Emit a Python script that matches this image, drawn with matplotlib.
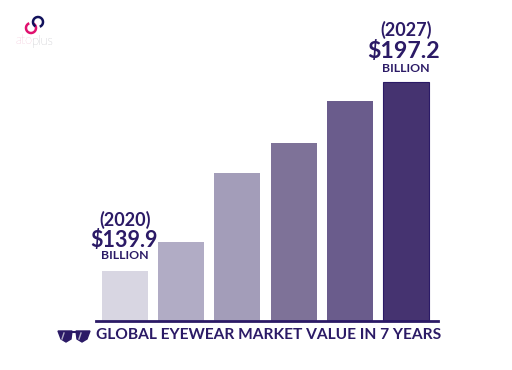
import matplotlib
matplotlib.use('Agg')
import matplotlib.pyplot as plt
from matplotlib.patches import Arc, Polygon

# values, only first and last are printed on the chart
positions = [0, 1, 2, 3, 4, 5]
values = [139.9, 148.7, 169.6, 178.7, 191.4, 197.2]
bar_colors = ['#d8d6e2', '#b1acc5', '#a39db9', '#7e7298', '#6a5c8c', '#453370']
first_label = ['(2020)', '$139.9', 'BILLION']
last_label = ['(2027)', '$197.2', 'BILLION']
title = 'GLOBAL EYEWEAR MARKET VALUE IN 7 YEARS'
navy = '#2b1a66'

plt.rcParams['font.family'] = ['Lato', 'DejaVu Sans']
fig = plt.figure(figsize=(5.12, 3.70), dpi=100)

# Chart axes, baseline sits at the bottom spine
ax = fig.add_axes([96 / 512, 49 / 370, 342 / 512, 321 / 370])
bars = ax.bar(positions, values, width=0.82, color=bar_colors)
bars[-1].set_edgecolor(navy)
bars[-1].set_linewidth(0.8)
ax.set_xlim(-0.516, 5.57)
ax.set_ylim(124.74, 222.07)
for side in ['top', 'left', 'right']:
    ax.spines[side].set_visible(False)
ax.spines['bottom'].set_color(navy)
ax.spines['bottom'].set_linewidth(2)
ax.set_xticks([])
ax.set_yticks([])
ax.patch.set_alpha(0)


def add_label(x, top, lines, big, dx, offs):
    # stacked label above a bar, offsets in points
    ax.annotate(lines[2], (x, top), xytext=(0, offs[0]), textcoords='offset points', ha='center', va='center',
                fontsize=8.8, fontweight='bold', color=navy)
    ax.annotate(lines[1], (x, top), xytext=(dx, offs[1]), textcoords='offset points', ha='center', va='center',
                fontsize=big, fontweight='bold', color=navy)
    ax.annotate(lines[0], (x, top), xytext=(0, offs[2]), textcoords='offset points', ha='center', va='center',
                fontsize=13, fontweight='bold', color=navy)


add_label(positions[0], values[0], first_label, 15.5, -1, (11.5, 22, 37))
add_label(positions[-1], values[-1], last_label, 16.7, -2, (9.5, 22, 37.5))

fig.text(96 / 512, 1 - 335 / 370, title, ha='left', va='center', fontsize=11.2, fontweight='bold', color=navy)

# Overlay in pixels for the logo and the sunglasses icon
deco = fig.add_axes([0, 0, 1, 1])
deco.set_xlim(0, 512)
deco.set_ylim(370, 0)
deco.axis('off')
deco.patch.set_alpha(0)

deco.add_patch(Arc((31, 28), 10, 10, theta1=-60, theta2=250, color='#e0116f', lw=1.8))
deco.add_patch(Arc((38, 22), 10, 10, theta1=120, theta2=430, color='#12125c', lw=1.8))
t1 = deco.text(15, 41, 'ato', fontsize=9.2, color='#e58db2', va='center', ha='left', fontweight='light')
deco.annotate('plus', xy=(1, 0.5), xycoords=t1, va='center', ha='left', fontsize=9.2,
              color='#85858f', fontweight='light')

# sunglasses
lens_l = [(58, 331), (72, 331), (71, 339), (66, 342), (61, 339)]
lens_r = [(76, 331), (90, 331), (87, 339), (82, 342), (77, 339)]
deco.add_patch(Polygon(lens_l, closed=True, color=navy))
deco.add_patch(Polygon(lens_r, closed=True, color=navy))
deco.plot([70, 78], [332, 332], color=navy, lw=1.5)
deco.plot([62, 64], [339, 333], color='#b1acc5', lw=1)
deco.plot([79, 81], [339, 333], color='#b1acc5', lw=1)

fig.savefig('out.png', dpi=100)
